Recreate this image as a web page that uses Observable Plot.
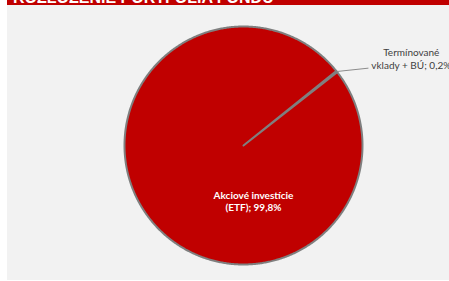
<!DOCTYPE html>
<html>
<head>
<meta charset="utf-8">
<script src="https://cdn.jsdelivr.net/npm/d3@7"></script>
<script src="https://cdn.jsdelivr.net/npm/@observablehq/plot@0.6"></script>
<style>
  html, body { margin: 0; padding: 0; background: #ffffff; width: 449px; height: 281px; overflow: hidden; }
  #title { position: absolute; left: 7px; top: 0; width: 442px; height: 5px; background: #c00000; overflow: hidden; }
  #title span { position: absolute; left: 6px; top: -10px; font: bold 16px/16px "Liberation Sans", Arial, sans-serif; color: #ffffff; white-space: nowrap; }
  #panel { position: absolute; left: 7px; top: 5px; width: 442px; height: 275px; background: #f2f2f2; }
</style>
</head>
<body>
<div id="title"><span>ROZLOŽENIE PORTFÓLIA FONDU</span></div>
<div id="panel"></div>
<script>
// ---- data ----
const categories = ["Termínované vklady + BÚ", "Akciové investície (ETF)"];
const shares = [0.2, 99.8];
const shareLabels = ["0,2%", "99,8%"];

// ---- layout (code, not data) ----
const startDeg = 51.2;
const rad = d => d * Math.PI / 180;

const rows = categories.map((c, i) => ({category: c, value: shares[i], label: shareLabels[i]}));
const arcs = d3.pie().sort(null).value(d => d.value)
  .startAngle(rad(startDeg)).endAngle(rad(startDeg) + 2 * Math.PI)(rows);

// polygon points for every slice (center -> arc -> center)
const pts = [];
for (const a of arcs) {
  const n = Math.max(2, Math.ceil((a.endAngle - a.startAngle) / rad(0.5)));
  pts.push({cat: a.data.category, x: 0, y: 0});
  for (let k = 0; k <= n; k++) {
    const t = a.startAngle + (a.endAngle - a.startAngle) * k / n;
    pts.push({cat: a.data.category, x: Math.sin(t), y: Math.cos(t)});
  }
}

const small = arcs[0];
const midSmall = (small.startAngle + small.endAngle) / 2;
const leader = [{x1: Math.sin(midSmall), y1: Math.cos(midSmall), x2: 1.05, y2: 0.65}];
const labelTexts = [
  {x: 1.41, y: 0.731, text: `Termínované\n${"vklady + BÚ"}; ${arcs[0].data.label}`},
];
const mainLabel = [
  {x: 0.084, y: -0.471, text: `Akciové investície\n(ETF); ${arcs[1].data.label}`}
];

const cx = 236, cy = 140, R = 119;
const chart = Plot.plot({
  width: 442,
  height: 275,
  margin: 0,
  style: {background: "transparent", overflow: "visible"},
  x: {domain: [-1, 1], range: [cx - R, cx + R], axis: null},
  y: {domain: [-1, 1], range: [cy + R, cy - R], axis: null},
  marks: [
    Plot.line(pts, {x: "x", y: "y", z: "cat", fill: "#c00000", stroke: "#7f7f7f", strokeWidth: 2, curve: "linear-closed", strokeLinejoin: "round"}),
    Plot.link(leader, {x1: "x1", y1: "y1", x2: "x2", y2: "y2", stroke: "#8c8c8c", strokeWidth: 1}),
    Plot.text(labelTexts, {x: "x", y: "y", text: "text", fill: "#404040", fontSize: 10, lineHeight: 1.3, textAnchor: "middle", lineAnchor: "middle", fontFamily: "Lato, 'Open Sans', sans-serif"}),
    Plot.text(mainLabel, {x: "x", y: "y", text: "text", fill: "#ffffff", fontSize: 10, fontWeight: "bold", lineHeight: 1.2, textAnchor: "middle", lineAnchor: "middle", fontFamily: "Lato, 'Open Sans', sans-serif"})
  ]
});
chart.style.position = "absolute";
chart.style.left = "0px";
chart.style.top = "0px";
document.getElementById("panel").appendChild(chart);
</script>
</body>
</html>
